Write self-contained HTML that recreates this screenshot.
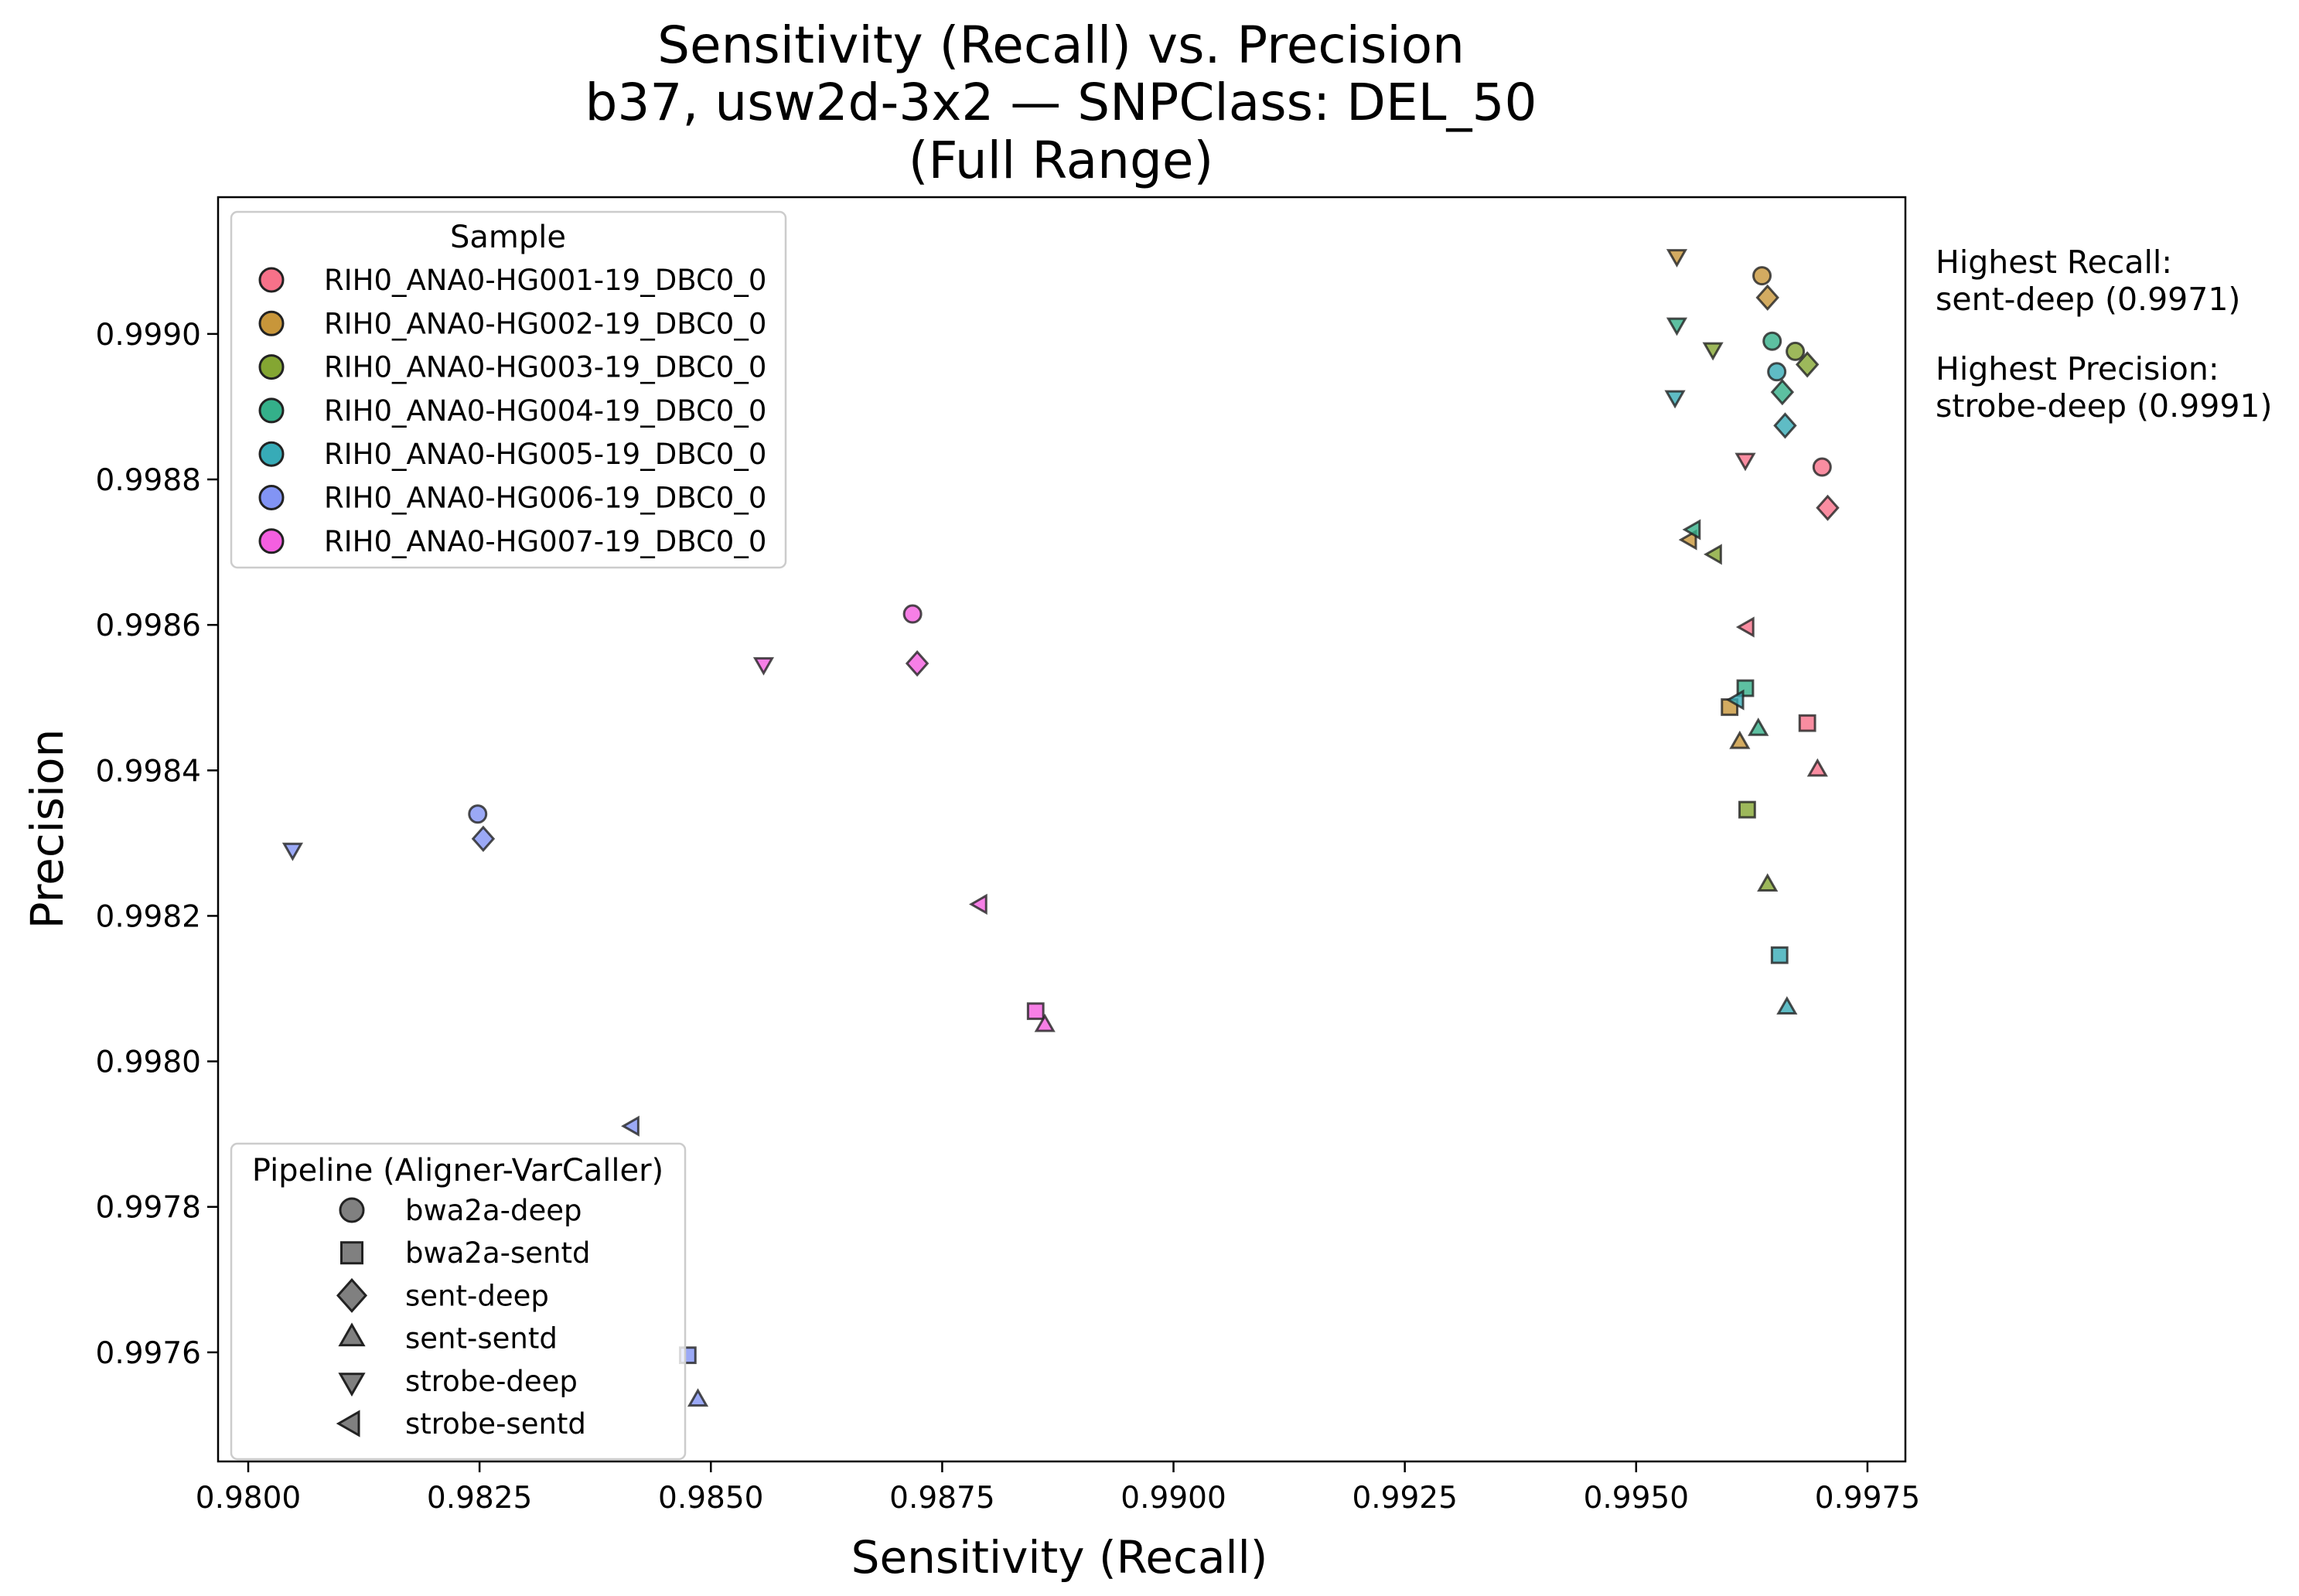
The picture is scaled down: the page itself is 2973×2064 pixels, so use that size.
<!DOCTYPE html>
<html><head><meta charset="utf-8">
<style>
html,body{margin:0;padding:0;background:#fff;}
svg{display:block;font-family:"DejaVu Sans","Liberation Sans",sans-serif;}
</style></head>
<body>
<svg id="chart" width="2973" height="2064" viewBox="0 0 2973 2064" xmlns="http://www.w3.org/2000/svg">
<rect width="2973" height="2064" fill="#fff"/>
<g font-size="66" text-anchor="middle" fill="#000">
<text x="1372" y="81">Sensitivity (Recall) vs. Precision</text>
<text x="1372" y="155">b37, usw2d-3x2 — SNPClass: DEL_50</text>
<text x="1372" y="230">(Full Range)</text>
</g>
<rect x="282" y="255" width="2182" height="1635" fill="none" stroke="#000" stroke-width="2.5"/>
<g id="xticks"></g>
<g id="yticks"></g>
<text x="1370" y="2034" font-size="58" text-anchor="middle">Sensitivity (Recall)</text>
<text transform="translate(81,1072) rotate(-90)" font-size="58" text-anchor="middle">Precision</text>
<g id="marks"></g>
<g font-size="41" fill="#000">
<text x="2503" y="353">Highest Recall:</text>
<text x="2503" y="401">sent-deep (0.9971)</text>
<text x="2503" y="491">Highest Precision:</text>
<text x="2503" y="539">strobe-deep (0.9991)</text>
</g>
<g id="legend1">
<rect x="299" y="274" width="717" height="460" rx="8" fill="#fff" fill-opacity="0.8" stroke="#ccc" stroke-width="2.5"/>
<text x="657" y="320" font-size="40" text-anchor="middle">Sample</text>
</g>
<g id="legend2">
<rect x="299" y="1479" width="587" height="408" rx="8" fill="#fff" fill-opacity="0.8" stroke="#ccc" stroke-width="2.5"/>
<text x="592" y="1527" font-size="40" text-anchor="middle">Pipeline (Aligner-VarCaller)</text>
</g>
</svg>
<script>
const samples = ["RIH0_ANA0-HG001-19_DBC0_0","RIH0_ANA0-HG002-19_DBC0_0","RIH0_ANA0-HG003-19_DBC0_0","RIH0_ANA0-HG004-19_DBC0_0","RIH0_ANA0-HG005-19_DBC0_0","RIH0_ANA0-HG006-19_DBC0_0","RIH0_ANA0-HG007-19_DBC0_0"];
const pipelines = ["bwa2a-deep","bwa2a-sentd","sent-deep","sent-sentd","strobe-deep","strobe-sentd"];
const recall = [
 [0.99701,0.99685,0.99707,0.99696,0.99618,0.99621],
 [0.99636,0.99601,0.99642,0.99612,0.99544,0.99559],
 [0.99672,0.99620,0.99685,0.99642,0.99583,0.99586],
 [0.99647,0.99618,0.99658,0.99632,0.99544,0.99563],
 [0.99652,0.99655,0.99661,0.99663,0.99542,0.99610],
 [0.98248,0.98475,0.98254,0.98486,0.98048,0.98416],
 [0.98718,0.98851,0.98723,0.98861,0.98557,0.98792]
];
const precision = [
 [0.998817,0.998465,0.998761,0.998400,0.998828,0.998597],
 [0.999080,0.998487,0.999050,0.998438,0.999108,0.998717],
 [0.998976,0.998346,0.998958,0.998242,0.998980,0.998697],
 [0.998990,0.998513,0.998920,0.998456,0.999014,0.998731],
 [0.998948,0.998146,0.998874,0.998073,0.998914,0.998497],
 [0.998340,0.997596,0.998306,0.997534,0.998292,0.997911],
 [0.998615,0.998069,0.998547,0.998049,0.998547,0.998216]
];
const xTicks = ["0.9800","0.9825","0.9850","0.9875","0.9900","0.9925","0.9950","0.9975"];
const yTicks = ["0.9976","0.9978","0.9980","0.9982","0.9984","0.9986","0.9988","0.9990"];
const colors = ["#f77189","#c8963a","#84a632","#34b08a","#37abb7","#8294f4","#f45fe0"];

const NS="http://www.w3.org/2000/svg";
const X0=282,X1=2464,Y0=1890,Y1=255;
const xmin=0.979674,xmax=0.99791,ymin=0.99745,ymax=0.999188;
const xs=v=>X0+(v-xmin)/(xmax-xmin)*(X1-X0);
const ys=v=>Y0-(v-ymin)/(ymax-ymin)*(Y0-Y1);
function mk(tag,attrs,parent){const e=document.createElementNS(NS,tag);for(const k in attrs)e.setAttribute(k,attrs[k]);parent.appendChild(e);return e;}
function shape(p,cx,cy,r,fill,parent,op,sw){
  let e;const a={fill:fill,"fill-opacity":op,stroke:"#222","stroke-width":sw,"stroke-opacity":op};
  if(p===0){e=mk("circle",Object.assign({cx:cx,cy:cy,r:r},a),parent);}
  else if(p===1){e=mk("rect",Object.assign({x:cx-r*0.9,y:cy-r*0.9,width:r*1.8,height:r*1.8},a),parent);}
  else{let pts;
    if(p===2)pts=[[0,-1.35*r],[1.2*r,0],[0,1.35*r],[-1.2*r,0]];
    else if(p===3)pts=[[0,-1.15*r],[r,0.6*r],[-r,0.6*r]];
    else if(p===4)pts=[[0,1.15*r],[r,-0.6*r],[-r,-0.6*r]];
    else pts=[[-1.15*r,0],[0.6*r,-r],[0.6*r,r]];
    e=mk("polygon",Object.assign({points:pts.map(q=>(cx+q[0])+","+(cy+q[1])).join(" ")},a),parent);}
  return e;
}
const xg=document.getElementById("xticks");
xTicks.forEach(t=>{const x=xs(parseFloat(t));
  const l=mk("line",{x1:x,x2:x,y1:Y0,y2:Y0+14,stroke:"#000","stroke-width":2.5},xg);
  
  
  const tx=mk("text",{x:x,y:Y0+60,"font-size":39,"text-anchor":"middle"},xg);tx.textContent=t;
  
  });
const yg=document.getElementById("yticks");
yTicks.forEach(t=>{const y=ys(parseFloat(t));
  const l=mk("line",{x1:X0-14,x2:X0,y1:y,y2:y,stroke:"#000","stroke-width":2.5},yg);
  
  
  const tx=mk("text",{x:X0-22,y:y+14,"font-size":39,"text-anchor":"end"},yg);tx.textContent=t;
  
  });
const mg=document.getElementById("marks");
samples.forEach((s,i)=>pipelines.forEach((p,j)=>{
  const e=shape(j,xs(recall[i][j]),ys(precision[i][j]),11,colors[i],mg,0.8,3);
  
  
}));
const l1=document.getElementById("legend1");
samples.forEach((s,i)=>{const y=362+i*56.3;
  const e=shape(0,351,y,15,colors[i],l1,1,3);
  
  
  const t=mk("text",{x:419,y:y+13,"font-size":37},l1);t.textContent=s;
  
  });
const l2=document.getElementById("legend2");
pipelines.forEach((p,j)=>{const y=1565+j*55.2;
  const e=shape(j,455,y,15,"#808080",l2,1,3);
  
  
  const t=mk("text",{x:524,y:y+13,"font-size":37},l2);t.textContent=p;
  
  });
</script>
</body></html>
